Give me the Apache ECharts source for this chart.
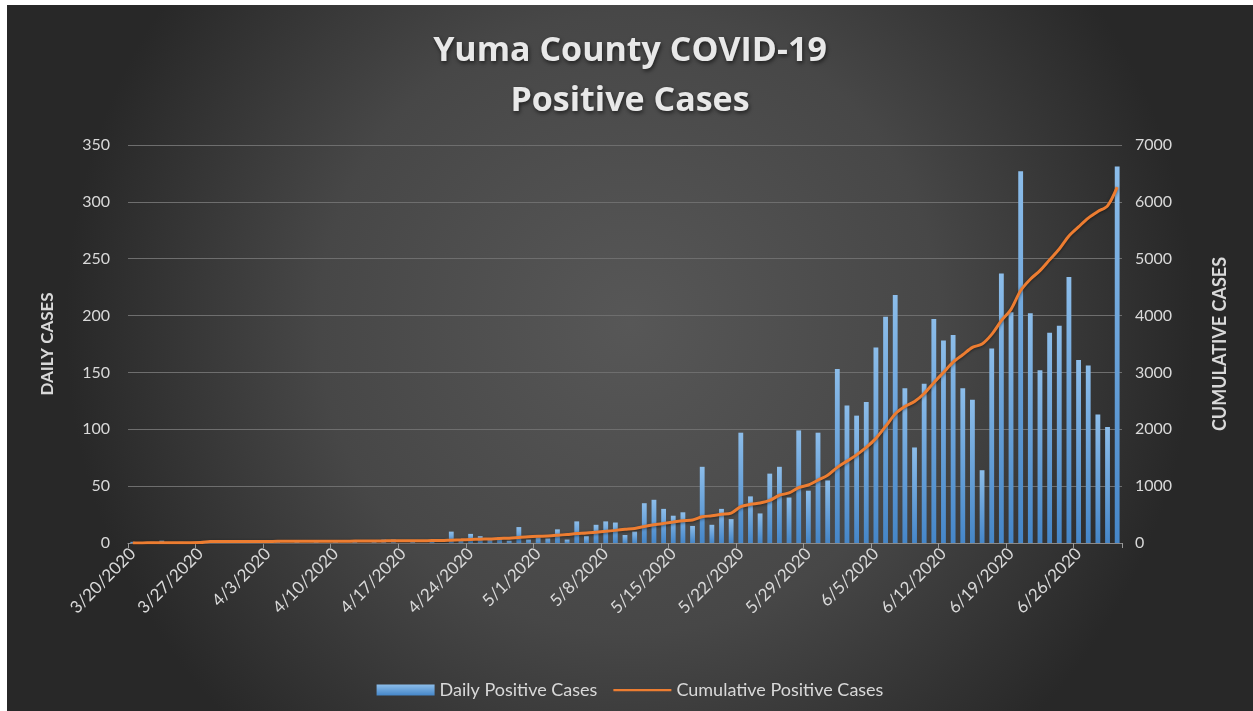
<!DOCTYPE html>
<html>
<head>
<meta charset="utf-8">
<script src="https://cdn.jsdelivr.net/npm/echarts@6/dist/echarts.min.js"></script>
<style>
  html, body { margin: 0; padding: 0; background: #ffffff; width: 1253px; height: 711px; overflow: hidden; }
  #chart { position: absolute; left: 7px; top: 5px; width: 1246px; height: 706px; }
</style>
</head>
<body>
<div id="chart"></div>
<script>
// ---- data ----
const startDate = [2020, 3, 20]; // first category: 3/20/2020, one bar per day through 6/30/2020
const dayCount = 103;

const dailyCases = [
  1,0,1,2,0,1,0,1,1,1,0,1,            // 3/20 - 3/31
  0,1,0,1,0,1,0,1,0,1,0,1,0,1,3,3,0,1,0,1,0, // 4/1 - 4/21
  10,2,8,6,3,5,2,14,3,                // 4/22 - 4/30
  5,4,12,3,19,6,16,19,18,7,           // 5/1 - 5/10
  10,35,38,30,24,27,15,67,16,30,21,97,41,26,61,67,40,99,46,97,55, // 5/11 - 5/31
  153,121,112,124,172,199,218,136,84,140,197,178,183,136,126,64,171,237,203,327,
  202,152,185,191,234,161,156,113,102,331 // 6/1 - 6/30
];

const cumulativeCases = [
  2,2,3,5,5,6,6,7,25,26,26,27,         // 3/20 - 3/31
  27,28,28,29,29,30,30,31,31,32,32,33,33,34,37,40,40,41,41,42,42, // 4/1 - 4/21
  50,55,62,68,72,80,85,98,110,         // 4/22 - 4/30
  118,124,136,150,165,175,190,205,222,240, // 5/1 - 5/10
  255,290,320,345,368,392,405,462,478,505,525,640,680,705,750,840,880,975,1020,1105,1190, // 5/11 - 5/31
  1330,1440,1550,1680,1840,2050,2270,2400,2490,2630,2820,3000,3180,3310,3440,3500,3670,3910,4110,4440,
  4640,4790,4980,5170,5400,5560,5715,5830,5930,6260 // 6/1 - 6/30
];

const leftTicks = { min: 0, max: 350, interval: 50 };
const rightTicks = { min: 0, max: 7000, interval: 1000 };
const labelEvery = 7;

const titleText = 'Yuma County COVID-19\nPositive Cases';
const leftAxisName = 'DAILY CASES';
const rightAxisName = 'CUMULATIVE CASES';
const dailyName = 'Daily Positive Cases';
const cumulativeName = 'Cumulative Positive Cases';

// ---- categories (dates) ----
const categories = [];
{
  const d0 = Date.UTC(startDate[0], startDate[1] - 1, startDate[2]);
  for (let i = 0; i < dayCount; i++) {
    const d = new Date(d0 + i * 86400000);
    categories.push((d.getUTCMonth() + 1) + '/' + d.getUTCDate() + '/' + d.getUTCFullYear());
  }
}

const txt = '#d9d9d9';
const font = 'Lato, "Open Sans", sans-serif';

const chart = echarts.init(document.getElementById('chart'), null, { renderer: 'canvas' });
chart.setOption({
  animation: false,
  backgroundColor: {
    type: 'radial', x: 0.5, y: 0.45, r: 0.8,
    colorStops: [
      { offset: 0, color: '#575757' },
      { offset: 0.55, color: '#474747' },
      { offset: 1, color: '#282828' }
    ]
  },
  title: {
    text: titleText,
    left: 'center',
    top: 16,
    textStyle: {
      color: '#e8e8e8',
      fontFamily: '"Open Sans", sans-serif',
      fontWeight: 'bold',
      fontSize: 34,
      lineHeight: 50,
      textShadowColor: 'rgba(0,0,0,0.6)',
      textShadowBlur: 4,
      textShadowOffsetX: 1,
      textShadowOffsetY: 2
    }
  },
  legend: {
    bottom: 7,
    left: 'center',
    itemWidth: 58,
    itemHeight: 11,
    itemGap: 16,
    textStyle: { color: txt, fontSize: 18, fontFamily: font },
    data: [
      { name: dailyName, icon: 'rect' },
      { name: cumulativeName, icon: 'path://M0,0 L0.01,0 M0,4.5 L58,4.5 L58,6.8 L0,6.8 Z M0,11 L0.01,11', itemStyle: { color: '#ed7d31' } }
    ]
  },
  grid: { left: 121, right: 131, top: 140, bottom: 168, containLabel: false },
  xAxis: {
    type: 'category',
    data: categories,
    boundaryGap: true,
    axisLine: { show: true, lineStyle: { color: '#8a8a8a', width: 1 } },
    axisTick: { show: true, interval: labelEvery - 1, length: 5, lineStyle: { color: '#9a9a9a' } },
    axisLabel: {
      interval: labelEvery - 1,
      rotate: 45,
      color: txt,
      fontSize: 17,
      fontFamily: font,
      margin: 8
    },
    splitLine: { show: false }
  },
  yAxis: [
    {
      type: 'value',
      min: leftTicks.min, max: leftTicks.max, interval: leftTicks.interval,
      name: leftAxisName,
      nameLocation: 'middle',
      nameGap: 72,
      nameRotate: 90,
      nameTextStyle: { color: txt, fontSize: 17, fontWeight: 'bold', fontFamily: font },
      axisLine: { show: false },
      axisTick: { show: false },
      axisLabel: { color: txt, fontSize: 16, fontFamily: font, margin: 18 },
      splitLine: { show: true, lineStyle: { color: '#6e6e6e', width: 1 } }
    },
    {
      type: 'value',
      min: rightTicks.min, max: rightTicks.max, interval: rightTicks.interval,
      name: rightAxisName,
      nameLocation: 'middle',
      nameGap: 89,
      nameRotate: 90,
      nameTextStyle: { color: txt, fontSize: 18, fontWeight: 'bold', fontFamily: font },
      axisLine: { show: false },
      axisTick: { show: false },
      axisLabel: { color: txt, fontSize: 16, fontFamily: font, margin: 13, formatter: function (v) { return String(v); } },
      splitLine: { show: false }
    }
  ],
  series: [
    {
      name: dailyName,
      type: 'bar',
      yAxisIndex: 0,
      data: dailyCases,
      barWidth: '50%',
      itemStyle: {
        color: {
          type: 'linear', x: 0, y: 0, x2: 0, y2: 1,
          colorStops: [
            { offset: 0, color: '#8cbdea' },
            { offset: 1, color: '#4586c8' }
          ]
        }
      }
    },
    {
      name: cumulativeName,
      type: 'line',
      yAxisIndex: 1,
      data: cumulativeCases,
      symbol: 'none',
      smooth: 0.3,
      lineStyle: {
        color: '#ed7d31', width: 3,
        shadowColor: 'rgba(0,0,0,0.5)', shadowBlur: 3, shadowOffsetY: 1
      },
      itemStyle: { color: '#ed7d31' },
      z: 3
    }
  ]
});
</script>
</body>
</html>
